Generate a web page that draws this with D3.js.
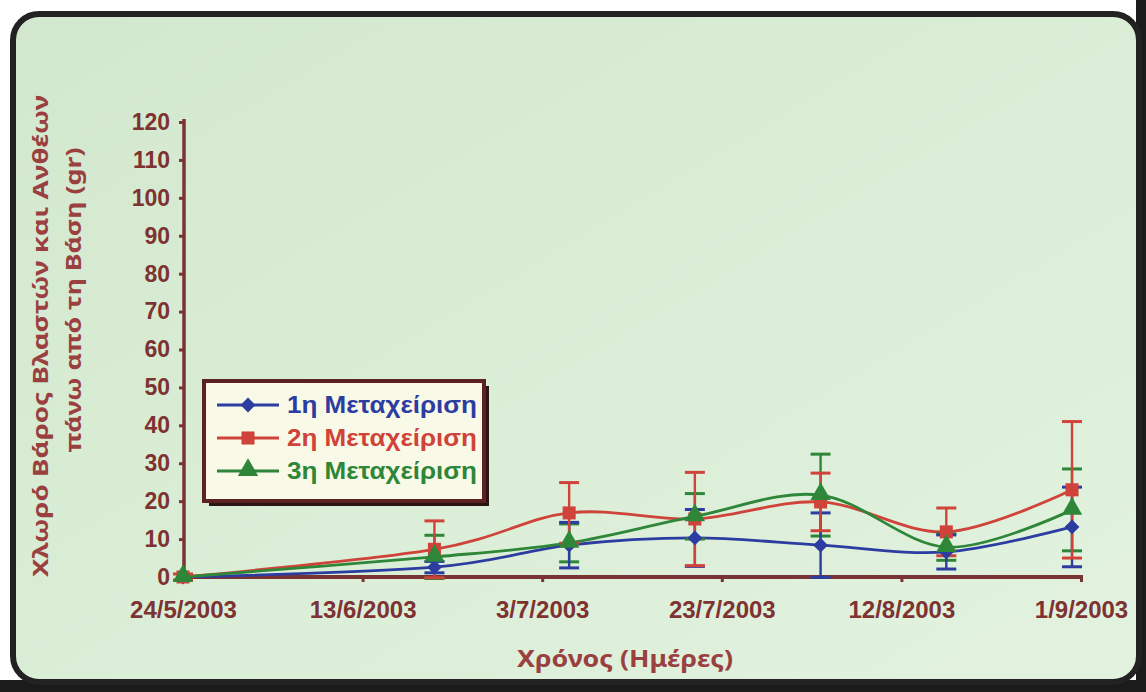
<!DOCTYPE html>
<html>
<head>
<meta charset="utf-8">
<script src="https://cdn.jsdelivr.net/npm/d3@7"></script>
<style>
  html, body { margin: 0; padding: 0; background: #ffffff; }
  svg { display: block; }
</style>
</head>
<body>
<svg id="chart" width="1146" height="692"></svg>
<script>
// ---- data ----
const dates = ["24/5/2003", "21/6/2003", "6/7/2003", "20/7/2003", "3/8/2003", "17/8/2003", "31/8/2003"];
const seriesNames = ["1η Μεταχείριση", "2η Μεταχείριση", "3η Μεταχείριση"];
const values1 = [0, 2.6, 8.4, 10.3, 8.4, 6.6, 13.2];
const values2 = [0, 7.3, 16.9, 15.3, 19.8, 11.9, 23.0];
const values3 = [0, 5.3, 9.0, 16.0, 21.6, 7.9, 17.7];
const errors1 = [0, 1.5, 6.0, 7.5, 8.5, 4.5, 10.5];
const errors2 = [0.8, 7.5, 8.0, 12.3, 7.6, 6.3, 18.0];
const errors3 = [0, 5.7, 5.0, 6.0, 10.8, 3.5, 10.8];
const xTickLabels = ["24/5/2003", "13/6/2003", "3/7/2003", "23/7/2003", "12/8/2003", "1/9/2003"];
const yTicks = [0, 10, 20, 30, 40, 50, 60, 70, 80, 90, 100, 110, 120];
const yTitleLines = ["Χλωρό Βάρος Βλαστών και Ανθέων", "πάνω από τη Βάση (gr)"];
const xTitle = "Χρόνος (Ημέρες)";

const seriesColors = ["#2c3ca0", "#d0433a", "#2e8638"];

const parse = s => { const [d, m, y] = s.split("/").map(Number); return new Date(Date.UTC(y, m - 1, d)); };
const fmt = d => `${d.getUTCDate()}/${d.getUTCMonth() + 1}/${d.getUTCFullYear()}`;

const svg = d3.select("#chart");
const W = 1146, H = 692;

// ---- page / frame ----
const defs = svg.append("defs");
const bg = defs.append("linearGradient").attr("id", "bg").attr("x1", 0).attr("y1", 0).attr("x2", 1).attr("y2", 1);
bg.append("stop").attr("offset", "0%").attr("stop-color", "#d2e8ce");
bg.append("stop").attr("offset", "55%").attr("stop-color", "#dbeed7");
bg.append("stop").attr("offset", "100%").attr("stop-color", "#e2f2df");

svg.append("rect").attr("x", 0).attr("y", 0).attr("width", W).attr("height", H).attr("fill", "#ffffff");
svg.append("rect").attr("x", 1136).attr("y", 0).attr("width", 10).attr("height", H).attr("fill", "#1b1b1b");
svg.append("rect").attr("x", 0).attr("y", 680).attr("width", W).attr("height", 12).attr("fill", "#1b1b1b");
svg.append("rect").attr("x", 13).attr("y", 14).attr("width", 1126).attr("height", 668)
  .attr("rx", 26).attr("ry", 26)
  .attr("fill", "url(#bg)").attr("stroke", "#222222").attr("stroke-width", 6);

// ---- scales ----
const x = d3.scaleUtc().domain([parse("24/5/2003"), parse("1/9/2003")]).range([183, 1081]);
const y = d3.scaleLinear().domain([0, 120]).range([577, 122]);

const axisColor = "#7a3333";
const labelColor = "#7e3232";

// ---- y axis ----
const yAxis = d3.axisLeft(y).tickValues(yTicks).tickSize(5).tickPadding(9);
const gy = svg.append("g").attr("transform", "translate(184,0)").call(yAxis);
gy.select(".domain").attr("stroke", axisColor).attr("stroke-width", 3.5).attr("d", "M0,119V580");
gy.selectAll(".tick line").attr("stroke", axisColor).attr("stroke-width", 3);
gy.selectAll(".tick text")
  .attr("fill", labelColor)
  .style("font-family", "'Liberation Sans', Arial, sans-serif")
  .style("font-weight", "bold")
  .style("font-size", "23px");

// ---- x axis ----
const xAxis = d3.axisBottom(x).tickValues(xTickLabels.map(parse)).tickFormat(fmt).tickSize(5).tickPadding(19);
const gx = svg.append("g").attr("transform", "translate(0,577)").call(xAxis);
gx.select(".domain").attr("stroke", axisColor).attr("stroke-width", 4).attr("d", "M181,0H1083");
gx.selectAll(".tick line").attr("stroke", axisColor).attr("stroke-width", 3);
gx.selectAll(".tick text")
  .attr("fill", labelColor)
  .style("font-family", "'Liberation Sans', Arial, sans-serif")
  .style("font-weight", "bold")
  .style("font-size", "24px");

// ---- axis titles ----
const titleFont = "'Noto Sans', 'DejaVu Sans', sans-serif";
const titleColor = "#9a4040";
svg.append("text")
  .attr("transform", "translate(48,336) rotate(-90)")
  .attr("text-anchor", "middle")
  .attr("fill", titleColor)
  .attr("textLength", 482).attr("lengthAdjust", "spacingAndGlyphs")
  .style("font-family", titleFont).style("font-weight", "bold").style("font-size", "22px")
  .text(yTitleLines[0]);
svg.append("text")
  .attr("transform", "translate(81,300) rotate(-90)")
  .attr("text-anchor", "middle")
  .attr("fill", titleColor)
  .attr("textLength", 305).attr("lengthAdjust", "spacingAndGlyphs")
  .style("font-family", titleFont).style("font-weight", "bold").style("font-size", "22px")
  .text(yTitleLines[1]);
svg.append("text")
  .attr("x", 625).attr("y", 667)
  .attr("text-anchor", "middle")
  .attr("fill", titleColor)
  .attr("textLength", 216).attr("lengthAdjust", "spacingAndGlyphs")
  .style("font-family", titleFont).style("font-weight", "bold").style("font-size", "23px")
  .text(xTitle);

// ---- series ----
const allValues = [values1, values2, values3];
const allErrors = [errors1, errors2, errors3];
const series = seriesNames.map((name, i) => ({
  name, color: seriesColors[i], idx: i,
  points: dates.map((d, j) => ({ date: parse(d), v: allValues[i][j], e: allErrors[i][j] }))
}));

const line = d3.line().x(d => x(d.date)).y(d => y(d.v)).curve(d3.curveCardinal.tension(0));

// marker drawer: wide diamond, square, triangle
function marker(sel, i) {
  if (i === 0) sel.attr("d", d3.symbol().type(d3.symbolSquare).size(110));
  else if (i === 1) sel.attr("d", d3.symbol().type(d3.symbolSquare).size(170));
  else sel.attr("d", d3.symbol().type(d3.symbolTriangle).size(180));
}
const markerTransform = (i, cx, cy) =>
  i === 0 ? `translate(${cx},${cy}) rotate(45)` : i === 2 ? `translate(${cx},${cy - 1})` : `translate(${cx},${cy})`;

// lines
series.forEach(s => {
  svg.append("path").datum(s.points)
    .attr("d", line).attr("fill", "none")
    .attr("stroke", s.color).attr("stroke-width", 2.8);
});

// error bars (green, blue, red order so red sits on top)
[series[2], series[0], series[1]].forEach(s => {
  const g = svg.append("g").attr("stroke", s.color).attr("stroke-width", 2.4);
  s.points.filter(p => p.e > 0).forEach(p => {
    const cx = x(p.date);
    g.append("line").attr("x1", cx).attr("x2", cx).attr("y1", y(p.v - p.e)).attr("y2", y(p.v + p.e));
    g.append("line").attr("x1", cx - 10).attr("x2", cx + 10).attr("y1", y(p.v + p.e)).attr("y2", y(p.v + p.e)).attr("stroke-width", 3);
    g.append("line").attr("x1", cx - 10).attr("x2", cx + 10).attr("y1", y(p.v - p.e)).attr("y2", y(p.v - p.e)).attr("stroke-width", 3);
  });
});

// markers
series.forEach(s => {
  svg.append("g").selectAll("path").data(s.points).join("path")
    .attr("transform", p => markerTransform(s.idx, x(p.date), y(p.v)))
    .call(sel => marker(sel, s.idx))
    .attr("fill", s.color);
});

// ---- legend ----
const lg = svg.append("g").attr("transform", "translate(204,381)");
lg.append("rect").attr("x", 5).attr("y", 5).attr("width", 280).attr("height", 120).attr("fill", "#2a1414");
lg.append("rect").attr("x", 0).attr("y", 0).attr("width", 280).attr("height", 120)
  .attr("fill", "#f8f9e6").attr("stroke", "#5c2222").attr("stroke-width", 4);
series.forEach((s, i) => {
  const yy = 24 + i * 33;
  lg.append("line").attr("x1", 13).attr("x2", 75).attr("y1", yy).attr("y2", yy)
    .attr("stroke", s.color).attr("stroke-width", 2.8);
  lg.append("path").attr("transform", markerTransform(i, 44, yy))
    .call(sel => marker(sel, i)).attr("fill", s.color);
  lg.append("text").attr("x", 83).attr("y", yy + 8)
    .attr("fill", s.color)
    .attr("textLength", 190).attr("lengthAdjust", "spacingAndGlyphs")
    .style("font-family", "'Liberation Sans', Arial, sans-serif")
    .style("font-weight", "bold").style("font-size", "23px")
    .text(s.name);
});
</script>
</body>
</html>
